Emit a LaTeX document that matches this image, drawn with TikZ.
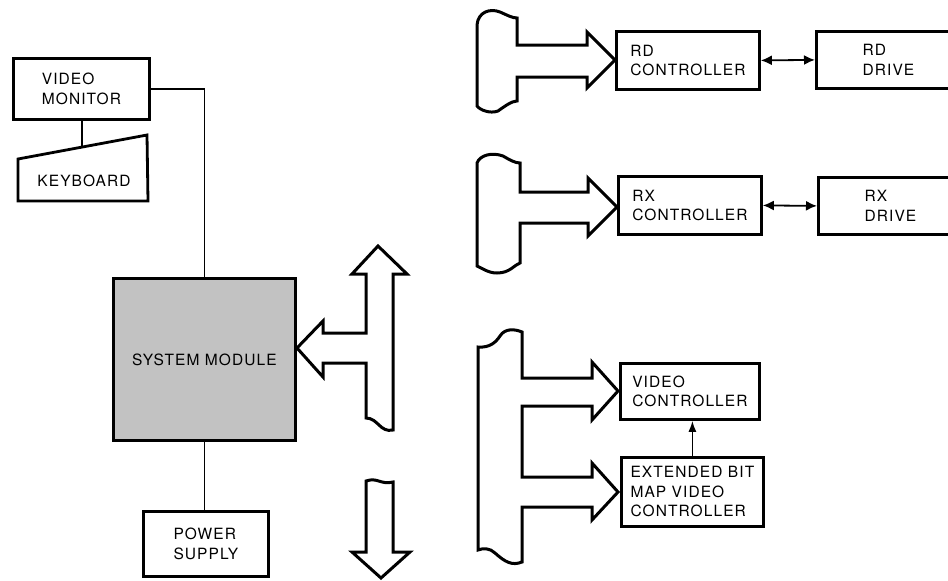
\documentclass[tikz,border=0pt]{standalone}
\usepackage{fontspec}
\setmainfont{TeX Gyre Heros}[LetterSpace=7]
\usetikzlibrary{arrows.meta}
\begin{document}
\begin{tikzpicture}[x=1pt,y=-1pt,
  box/.style={draw, line width=2.8pt, inner sep=0pt, align=left, font=\fontsize{15.5}{19.5}\selectfont, anchor=north west},
  fat/.style={draw, line width=3pt, line join=miter, fill=white},
  thin/.style={line width=1.3pt},
  dbl/.style={line width=1.8pt, {Latex[length=11pt,width=10pt]}-{Latex[length=11pt,width=10pt]}},
  lbl/.style={font=\fontsize{15.5}{19.5}\selectfont, align=left}
]
\useasboundingbox (0,0) rectangle (948,581);

% left column
\node[box, minimum width=136pt, minimum height=61pt] (mon) at (12,57) {VIDEO\\MONITOR};
\draw[line width=2.8pt, line join=miter] (18,159) -- (147,135) -- (148,201) -- (18,201) -- cycle;
\node[lbl] (kb) at (84,181) {KEYBOARD};
\coordinate (kbtop) at (82,147);
\node[box, fill=black!24, minimum width=182pt, minimum height=162pt] (sys) at (112,277) {SYSTEM MODULE};
\node[box, minimum width=125pt, minimum height=65pt] (pow) at (142,510) {POWER\\SUPPLY};

\draw[thin] (mon.south -| kbtop) -- (kbtop);
\draw[thin] (mon.east) -| (sys.north);
\draw[thin] (sys.south) -- (sys.south |- pow.north);

% bus arrows
\draw[fat] (378,246) -- (407,274) -- (393,274) -- (393,430)
  .. controls (380,433) and (378,418) .. (366,418)
  -- (366,363) -- (323,363) -- (323,377) -- (297,348) -- (323,321) -- (323,333)
  -- (366,333) -- (366,274) -- (352,274) -- cycle;
\draw[fat] (366,481) .. controls (378,477) and (380,485) .. (393,482)
  -- (393,552) -- (410,552) -- (381,578) -- (352,552) -- (366,552) -- cycle;

% RD group
\draw[fat] (477,25) .. controls (478,12) and (490,8) .. (500,12)
  .. controls (507,15) and (512,18) .. (517,18)
  -- (517,45) -- (587,45) -- (587,32) -- (615,60) -- (587,88) -- (587,77) -- (517,77)
  -- (517,101) .. controls (512,101) and (505,106) .. (498,111)
  .. controls (490,114) and (480,110) .. (477,106) -- cycle;
\node[box, minimum width=143pt, minimum height=58pt] (rdc) at (615,30) {RD\\CONTROLLER};
\node[box, minimum width=144pt, minimum height=57pt] (rdd) at (815,30) {RD\\DRIVE};
\draw[dbl] (rdc.east) -- (rdd.west);

% RX group
\draw[fat] (477,163) .. controls (480,155) and (492,152) .. (503,156)
  .. controls (510,160) and (515,163) .. (520,163)
  -- (520,192) -- (588,192) -- (588,178) -- (617,207) -- (588,236) -- (588,223) -- (520,223)
  -- (520,263) .. controls (514,265) and (510,273) .. (497,273)
  .. controls (488,273) and (482,268) .. (477,266) -- cycle;
\node[box, minimum width=143pt, minimum height=58pt] (rxc) at (617,175) {RX\\CONTROLLER};
\node[box, minimum width=144pt, minimum height=57pt] (rxd) at (817,176) {RX\\DRIVE};
\draw[dbl] (rxc.east) -- (rxd.west);

% video group
\draw[fat] (478,347) .. controls (490,348) and (496,342) .. (500,336)
  .. controls (505,328) and (515,329) .. (522,332)
  -- (522,378) -- (592,378) -- (592,362) -- (618,391) -- (592,420) -- (592,406) -- (522,406)
  -- (522,477) -- (592,477) -- (592,463) -- (618,492) -- (592,520) -- (592,507) -- (522,507)
  -- (522,562) .. controls (512,566) and (505,562) .. (495,553)
  .. controls (490,548) and (483,548) .. (478,550) -- cycle;
\node[box, minimum width=139pt, minimum height=56pt] (vc) at (619,362) {VIDEO\\CONTROLLER};
\node[box, minimum width=142pt, minimum height=69pt] (ext) at (620,456) {EXTENDED BIT\\MAP VIDEO\\CONTROLLER};
\draw[line width=1.6pt, -{Latex[length=11pt,width=8pt]}] (ext.north) -- (ext.north |- vc.south);
\end{tikzpicture}
\end{document}
